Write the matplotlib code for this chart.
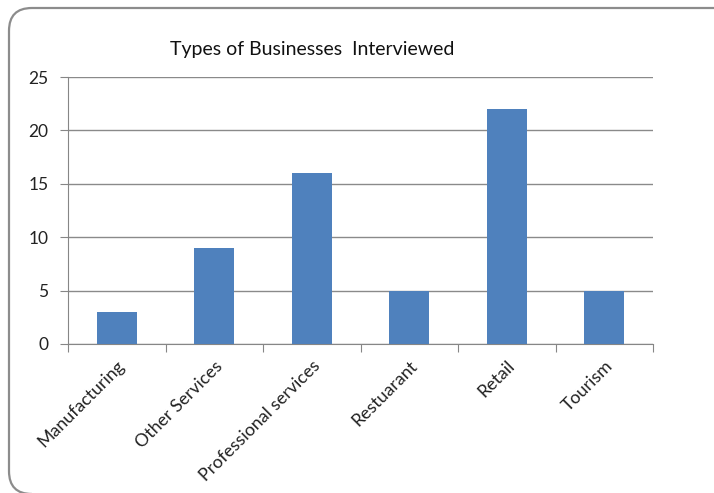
import matplotlib
matplotlib.use("Agg")
import matplotlib.pyplot as plt
from matplotlib.patches import FancyBboxPatch

categories = ["Manufacturing", "Other Services", "Professional services",
              "Restuarant", "Retail", "Tourism"]
counts = [3, 9, 16, 5, 22, 5]
y_ticks = [0, 5, 10, 15, 20, 25]
title = "Types of Businesses  Interviewed"

plt.rcParams["font.family"] = ["Lato", "DejaVu Sans"]

W, H = 714, 493
fig = plt.figure(figsize=(W / 100, H / 100), dpi=100)

# rounded frame around the chart area
frame = FancyBboxPatch((9 / W, 1 - 494 / H), (740 - 9) / W, (494 - 8) / H,
                       boxstyle="round,pad=0,rounding_size=0.032",
                       transform=fig.transFigure, fill=False,
                       edgecolor="#8c8c8c", linewidth=1.6, zorder=0,
                       mutation_aspect=W / H)
fig.patches.append(frame)

ax = fig.add_axes([68 / W, 1 - 344 / H, (653 - 68) / W, (344 - 77) / H])
x = list(range(len(categories)))
ax.bar(x, counts, width=0.41, color="#4f81bd", zorder=3)

ax.set_xlim(-0.5, len(categories) - 0.5)
ax.set_ylim(0, 25)
ax.set_yticks(y_ticks)
ax.tick_params(axis="y", length=6, color="#868686", labelsize=12.5,
               labelcolor="#222222", pad=8)
ax.yaxis.grid(True, color="#8a8a8a", linewidth=1.0, zorder=0)

# category tick marks sit on the boundaries between groups
ax.set_xticks([i - 0.5 for i in range(len(categories) + 1)], minor=False)
ax.set_xticklabels([])
ax.tick_params(axis="x", which="major", length=6, color="#868686")
ax.set_xticks(x, minor=True)
ax.set_xticklabels(categories, minor=True, rotation=45, ha="right",
                   va="top", rotation_mode="anchor", fontsize=12.8,
                   color="#222222")
ax.tick_params(axis="x", which="minor", length=0, pad=10)

for side in ("top", "right"):
    ax.spines[side].set_visible(False)
ax.spines["left"].set_color("#868686")
ax.spines["bottom"].set_color("#868686")

fig.text(312 / W, 1 - 49 / H, title, ha="center", va="center",
         fontsize=14, color="#111111")

fig.savefig("out.png", dpi=100)
